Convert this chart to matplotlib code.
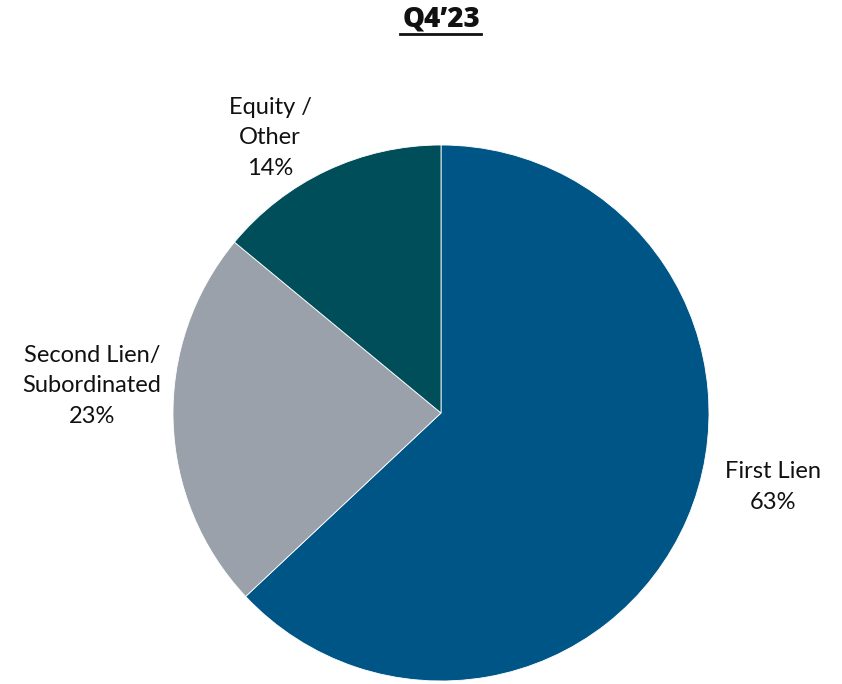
import matplotlib.pyplot as plt
from matplotlib.lines import Line2D

# ---------- data ----------
labels = ['First Lien', 'Second Lien/\nSubordinated', 'Equity /\nOther']
shares = [63, 23, 14]
colors = ['#005587', '#9aa1aa', '#004e5a']
title = 'Q4\u201923'

# ---------- figure ----------
plt.rcParams['font.family'] = ['Lato', 'DejaVu Sans']
W, H = 842, 684
fig = plt.figure(figsize=(W / 100, H / 100), dpi=100)
ax = fig.add_axes([0, 0, 1, 1])

cx, cy, r = 441, H - 413, 268
ax.pie(shares, colors=colors, startangle=90, counterclock=False,
       center=(cx, cy), radius=r, frame=True,
       wedgeprops=dict(edgecolor='white', linewidth=0.6))
ax.set_xlim(0, W)
ax.set_ylim(0, H)
ax.set_aspect('equal')
ax.axis('off')

# label positions in pixels from top-left
label_pos = [(773, 487), (92, 386), (270, 138)]
for lab, val, (x, y) in zip(labels, shares, label_pos):
    ax.text(x, H - y, f'{lab}\n{val}%', ha='center', va='center',
            fontsize=17, color='#111111', linespacing=1.55)

ax.text(441, H - 19, title, ha='center', va='center', fontsize=20,
        fontweight='heavy', family=['Open Sans', 'DejaVu Sans'], color='#111111')
fig.add_artist(Line2D([400 / W, 481 / W], [1 - 34 / H, 1 - 34 / H],
                      color='#111111', lw=2))

fig.savefig('out.png', dpi=100, facecolor='white')
